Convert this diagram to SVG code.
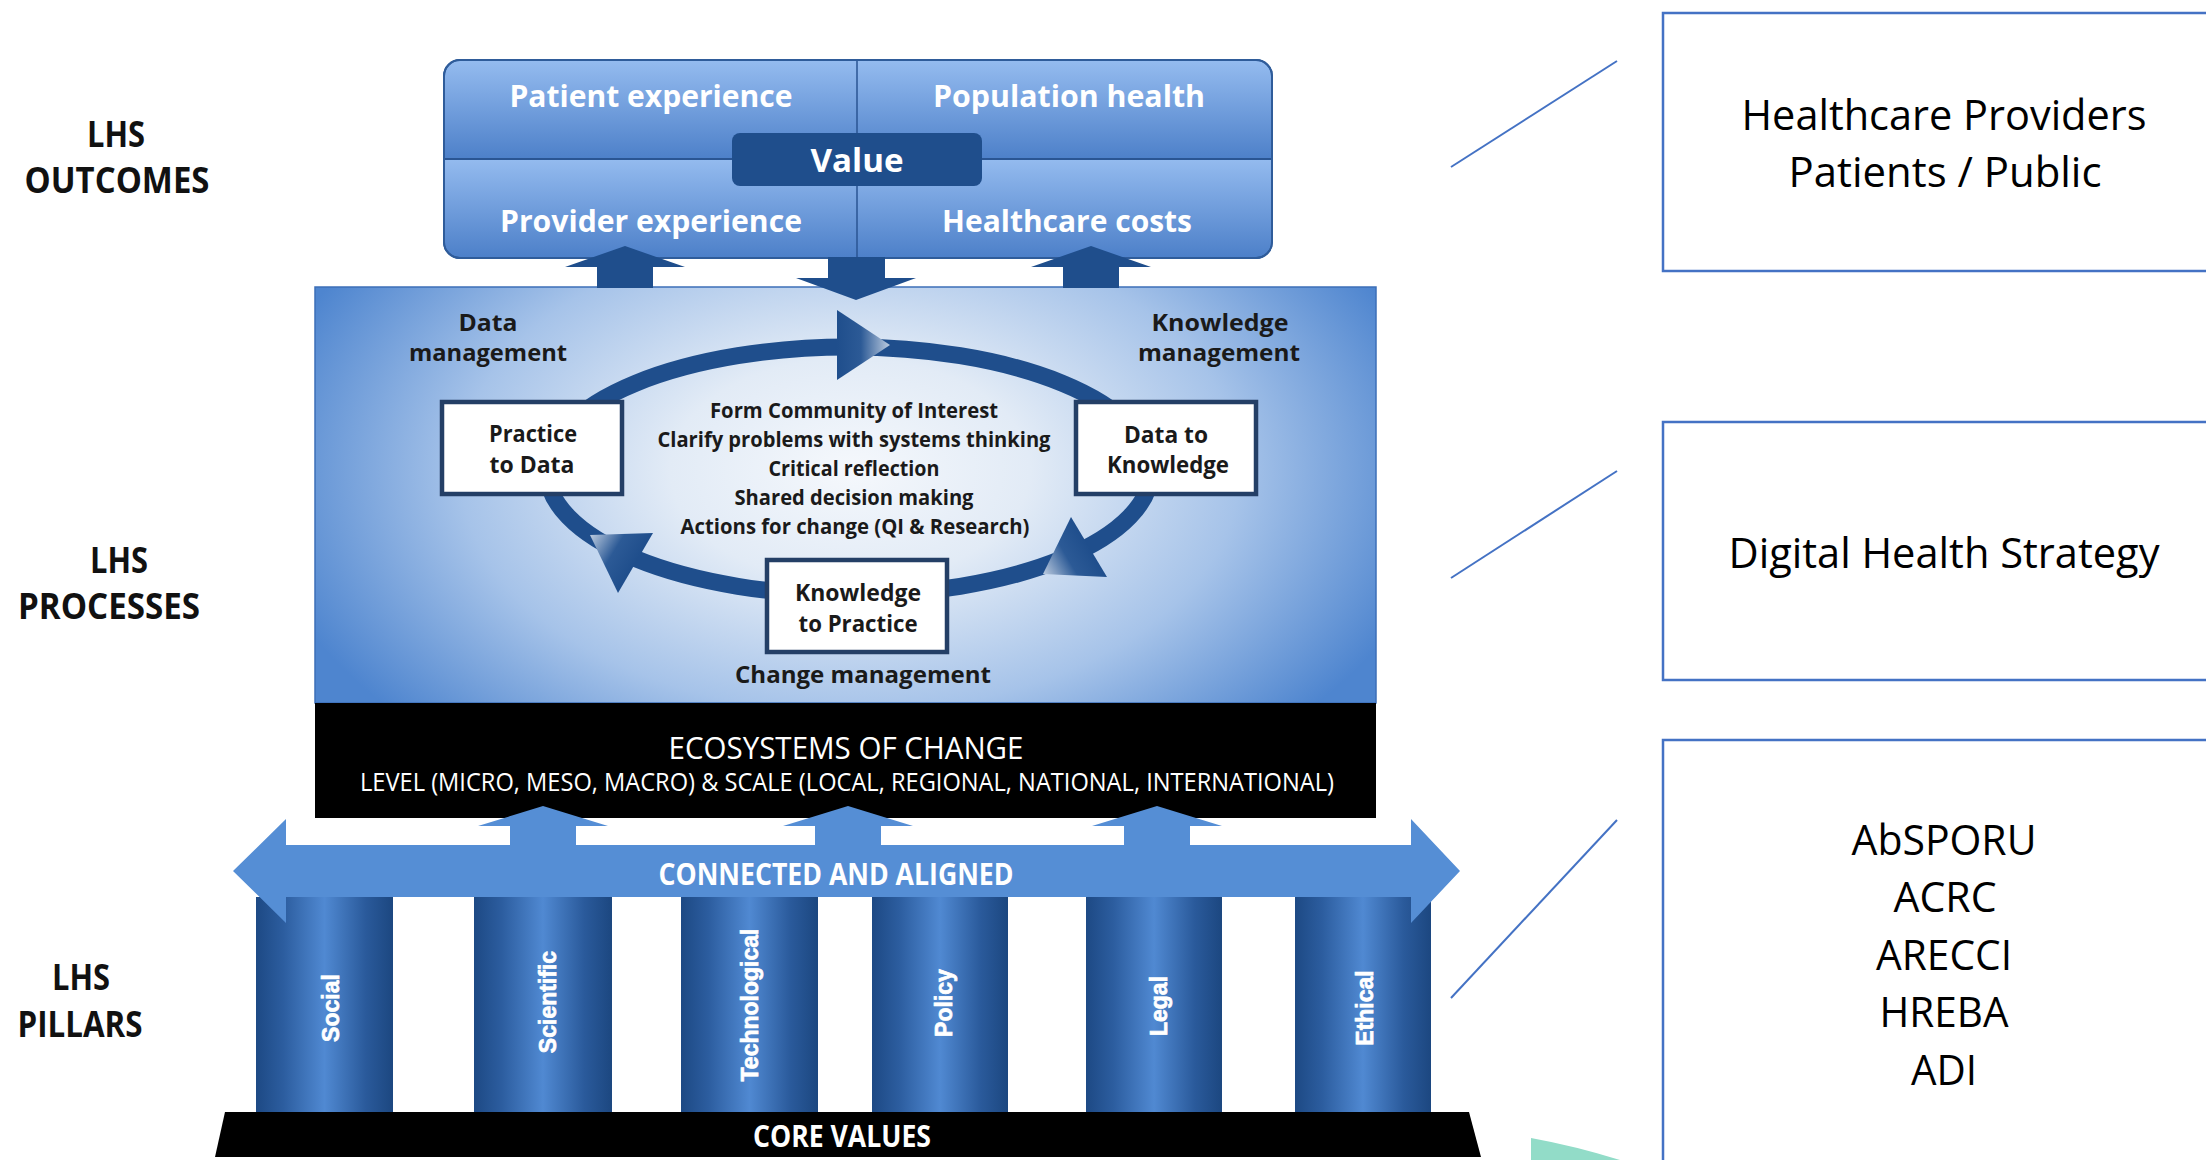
<svg xmlns="http://www.w3.org/2000/svg" width="2206" height="1160" viewBox="0 0 2206 1160">
<defs>
<style>
text{font-family:"Open Sans","Liberation Sans",sans-serif;text-anchor:middle}
.lbl{font-weight:700;font-size:35px;fill:#111}
.out{font-weight:700;font-size:30px;fill:#fff}
.proc{font-weight:700;font-size:24px;fill:#1a1a1a}
.list{font-weight:700;font-size:20.5px;fill:#1a1a1a}
.band{font-weight:400;fill:#fff}
.bold{font-weight:700;fill:#fff;font-size:30px}
.pill{font-family:"Liberation Sans",Arial,sans-serif;font-weight:700;font-size:23px;fill:#fff;stroke:#fff;stroke-width:0.7}
.rt{font-weight:400;font-size:42px;fill:#000}
.rbox{fill:#fff;stroke:#4472c4;stroke-width:2.5}
.wbox{fill:#fff;stroke:#243f66;stroke-width:4.5}
.navy{fill:#1f4e8c}
.lblue{fill:#558ed5}
.conn{stroke:#4472c4;stroke-width:2;fill:none}
.pillar{fill:url(#gPillar)}
</style>
<linearGradient id="gTop" x1="0" y1="0" x2="0" y2="1">
<stop offset="0" stop-color="#94bbef"/><stop offset="1" stop-color="#4d80c9"/>
</linearGradient>
<linearGradient id="gPillar" x1="0" y1="0" x2="1" y2="0">
<stop offset="0" stop-color="#1d4984"/><stop offset="0.2" stop-color="#2c5d9f"/><stop offset="0.5" stop-color="#5089d2"/><stop offset="0.8" stop-color="#2a5a9b"/><stop offset="1" stop-color="#1c4780"/>
</linearGradient>
<radialGradient id="gProc" gradientUnits="userSpaceOnUse" cx="850" cy="470" r="600" gradientTransform="translate(850 470) scale(1 0.62) translate(-850 -470)">
<stop offset="0" stop-color="#f5f8fc"/><stop offset="0.3" stop-color="#e2ebf6"/><stop offset="0.65" stop-color="#a6c3e9"/><stop offset="1" stop-color="#4e85cf"/>
</radialGradient>
<linearGradient id="gA1" gradientUnits="userSpaceOnUse" x1="837" y1="345" x2="890" y2="345">
<stop offset="0" stop-color="#1f4e8c"/><stop offset="0.45" stop-color="#2c5a96"/><stop offset="1" stop-color="#bccbdf"/>
</linearGradient>
<linearGradient id="gA2" gradientUnits="userSpaceOnUse" x1="1089" y1="547" x2="1043" y2="574">
<stop offset="0" stop-color="#1f4e8c"/><stop offset="0.45" stop-color="#2c5a96"/><stop offset="1" stop-color="#bccbdf"/>
</linearGradient>
<linearGradient id="gA3" gradientUnits="userSpaceOnUse" x1="635" y1="563" x2="590" y2="535">
<stop offset="0" stop-color="#1f4e8c"/><stop offset="0.45" stop-color="#2c5a96"/><stop offset="1" stop-color="#bccbdf"/>
</linearGradient>
</defs>
<rect width="2206" height="1160" fill="#fff"/>

<g id="labels">
<text class="lbl" x="116" y="147" textLength="58" lengthAdjust="spacingAndGlyphs">LHS</text>
<text class="lbl" x="117" y="193" textLength="185" lengthAdjust="spacingAndGlyphs">OUTCOMES</text>
<text class="lbl" x="119" y="573" textLength="58" lengthAdjust="spacingAndGlyphs">LHS</text>
<text class="lbl" x="109" y="619" textLength="182" lengthAdjust="spacingAndGlyphs">PROCESSES</text>
<text class="lbl" x="81" y="990" textLength="58" lengthAdjust="spacingAndGlyphs">LHS</text>
<text class="lbl" x="80" y="1037" textLength="125" lengthAdjust="spacingAndGlyphs">PILLARS</text>
</g>

<g id="processes">
<rect x="315" y="287" width="1061" height="416" fill="url(#gProc)" stroke="#3d6fb8" stroke-width="1.5"/>
<text class="proc" x="488" y="331" textLength="59" lengthAdjust="spacingAndGlyphs">Data</text>
<text class="proc" x="488" y="361" textLength="158" lengthAdjust="spacingAndGlyphs">management</text>
<text class="proc" x="1220" y="331" textLength="137" lengthAdjust="spacingAndGlyphs">Knowledge</text>
<text class="proc" x="1219" y="361" textLength="162" lengthAdjust="spacingAndGlyphs">management</text>
<text class="proc" x="863" y="683" textLength="256" lengthAdjust="spacingAndGlyphs">Change management</text>
</g>

<g id="cycle">
<ellipse cx="849" cy="471" rx="302" ry="124" fill="none" stroke="#1f4e8c" stroke-width="17"/>
<polygon points="837,310 890,345 837,380" fill="url(#gA1)"/>
<polygon points="1071,517 1107,577 1043,574" fill="url(#gA2)"/>
<polygon points="653,533 618,593 590,535" fill="url(#gA3)"/>
</g>

<g id="list">
<text class="list" x="854" y="418" textLength="288" lengthAdjust="spacingAndGlyphs">Form Community of Interest</text>
<text class="list" x="854" y="447" textLength="393" lengthAdjust="spacingAndGlyphs">Clarify problems with systems thinking</text>
<text class="list" x="854" y="476" textLength="171" lengthAdjust="spacingAndGlyphs">Critical reflection</text>
<text class="list" x="854" y="505" textLength="239" lengthAdjust="spacingAndGlyphs">Shared decision making</text>
<text class="list" x="855" y="534" textLength="349" lengthAdjust="spacingAndGlyphs">Actions for change (QI &amp; Research)</text>
</g>

<g id="practice-to-data">
<rect class="wbox" x="442" y="402" width="180" height="92"/>
<text class="proc" x="533" y="442" textLength="88" lengthAdjust="spacingAndGlyphs">Practice</text>
<text class="proc" x="532" y="473" textLength="85" lengthAdjust="spacingAndGlyphs">to Data</text>
</g>
<g id="data-to-knowledge">
<rect class="wbox" x="1076" y="402" width="180" height="92"/>
<text class="proc" x="1166" y="443" textLength="84" lengthAdjust="spacingAndGlyphs">Data to</text>
<text class="proc" x="1168" y="473" textLength="122" lengthAdjust="spacingAndGlyphs">Knowledge</text>
</g>
<g id="knowledge-to-practice">
<rect class="wbox" x="767" y="560" width="180" height="92"/>
<text class="proc" x="858" y="601" textLength="126" lengthAdjust="spacingAndGlyphs">Knowledge</text>
<text class="proc" x="858" y="632" textLength="119" lengthAdjust="spacingAndGlyphs">to Practice</text>
</g>

<g id="outcomes">
<rect x="444" y="60" width="828" height="198" rx="16" fill="#4d80c9" stroke="#2f5c9a" stroke-width="2"/>
<path d="M460,61 H1256 A15,15 0 0 1 1271,76 V159 H445 V76 A15,15 0 0 1 460,61 Z" fill="url(#gTop)"/>
<path d="M445,159 H1271 V242 A15,15 0 0 1 1256,257 H460 A15,15 0 0 1 445,242 Z" fill="url(#gTop)"/>
<line x1="445" y1="159" x2="1271" y2="159" stroke="#2a5593" stroke-width="2"/>
<line x1="857" y1="61" x2="857" y2="257" stroke="#2a5593" stroke-width="1.5"/>
<rect x="444" y="60" width="828" height="198" rx="16" fill="none" stroke="#2f5c9a" stroke-width="2"/>
<text class="out" x="651" y="107" textLength="283" lengthAdjust="spacingAndGlyphs">Patient experience</text>
<text class="out" x="1069" y="107" textLength="272" lengthAdjust="spacingAndGlyphs">Population health</text>
<text class="out" x="651" y="232" textLength="302" lengthAdjust="spacingAndGlyphs">Provider experience</text>
<text class="out" x="1067" y="232" textLength="250" lengthAdjust="spacingAndGlyphs">Healthcare costs</text>
<rect x="732" y="133" width="250" height="53" rx="8" class="navy"/>
<text class="out" x="857" y="172" style="font-size:33px" textLength="93" lengthAdjust="spacingAndGlyphs">Value</text>
</g>

<g id="ecosystems">
<rect x="315" y="703" width="1061" height="115" fill="#000"/>
<text class="band" x="846" y="759" style="font-size:31px" textLength="355" lengthAdjust="spacingAndGlyphs">ECOSYSTEMS OF CHANGE</text>
<text class="band" x="847" y="791" style="font-size:25px" textLength="974" lengthAdjust="spacingAndGlyphs">LEVEL (MICRO, MESO, MACRO) &amp; SCALE (LOCAL, REGIONAL, NATIONAL, INTERNATIONAL)</text>
</g>

<g id="pillars">
<g id="pillar-social"><rect class="pillar" x="256" y="897" width="137" height="215"/><text class="pill" transform="translate(339 1008) rotate(-90)">Social</text></g>
<g id="pillar-scientific"><rect class="pillar" x="474" y="897" width="138" height="215"/><text class="pill" transform="translate(556 1002) rotate(-90)">Scientific</text></g>
<g id="pillar-technological"><rect class="pillar" x="681" y="897" width="137" height="215"/><text class="pill" transform="translate(758 1005) rotate(-90)">Technological</text></g>
<g id="pillar-policy"><rect class="pillar" x="872" y="897" width="136" height="215"/><text class="pill" transform="translate(952 1003) rotate(-90)">Policy</text></g>
<g id="pillar-legal"><rect class="pillar" x="1086" y="897" width="136" height="215"/><text class="pill" transform="translate(1167 1006) rotate(-90)">Legal</text></g>
<g id="pillar-ethical"><rect class="pillar" x="1295" y="897" width="136" height="215"/><text class="pill" transform="translate(1373 1008) rotate(-90)">Ethical</text></g>
</g>

<g id="core-values">
<polygon points="225,1112 1469,1112 1481,1157 215,1157" fill="#000"/>
<text class="bold" x="842" y="1147" textLength="178" lengthAdjust="spacingAndGlyphs">CORE VALUES</text>
</g>

<g id="connected-aligned">
<polygon class="lblue" points="233,871 286,819 286,845 1411,845 1411,819 1460,871 1411,923 1411,897 286,897 286,923"/>
<text class="bold" x="836" y="885" textLength="355" lengthAdjust="spacingAndGlyphs">CONNECTED AND ALIGNED</text>
</g>

<g id="connectors">
<polygon class="navy" points="597,288 597,267 565,267 625,246 685,267 653,267 653,288"/>
<polygon class="navy" points="1063,288 1063,267 1031,267 1091,246 1151,267 1119,267 1119,288"/>
<polygon class="navy" points="828,257 885,257 885,278 916,278 856,300 796,278 828,278"/>
<polygon class="lblue" points="510,846 510,826 478,826 543,806 608,826 576,826 576,846"/>
<polygon class="lblue" points="815,846 815,826 783,826 848,806 913,826 881,826 881,846"/>
<polygon class="lblue" points="1124,846 1124,826 1092,826 1157,806 1222,826 1190,826 1190,846"/>
<line class="conn" x1="1451" y1="167" x2="1617" y2="61"/>
<line class="conn" x1="1451" y1="578" x2="1617" y2="471"/>
<line class="conn" x1="1451" y1="998" x2="1617" y2="820"/>
</g>

<g id="stakeholders">
<rect class="rbox" x="1663" y="13" width="562" height="258"/>
<text class="rt" x="1944" y="130" textLength="405" lengthAdjust="spacingAndGlyphs">Healthcare Providers</text>
<text class="rt" x="1945" y="187" textLength="313" lengthAdjust="spacingAndGlyphs">Patients / Public</text>
</g>
<g id="strategy">
<rect class="rbox" x="1663" y="422" width="562" height="258"/>
<text class="rt" x="1944" y="568" textLength="431" lengthAdjust="spacingAndGlyphs">Digital Health Strategy</text>
</g>
<g id="partners">
<rect class="rbox" x="1663" y="740" width="562" height="440"/>
<text class="rt" x="1944" y="855" textLength="185" lengthAdjust="spacingAndGlyphs">AbSPORU</text>
<text class="rt" x="1945" y="912" textLength="103" lengthAdjust="spacingAndGlyphs">ACRC</text>
<text class="rt" x="1944" y="970" textLength="136" lengthAdjust="spacingAndGlyphs">ARECCI</text>
<text class="rt" x="1944" y="1027" textLength="129" lengthAdjust="spacingAndGlyphs">HREBA</text>
<text class="rt" x="1944" y="1085" textLength="66" lengthAdjust="spacingAndGlyphs">ADI</text>
</g>
<path d="M1531,1138 Q1575,1146 1620,1160 L1531,1160 Z" fill="#92dcc8"/>
</svg>
